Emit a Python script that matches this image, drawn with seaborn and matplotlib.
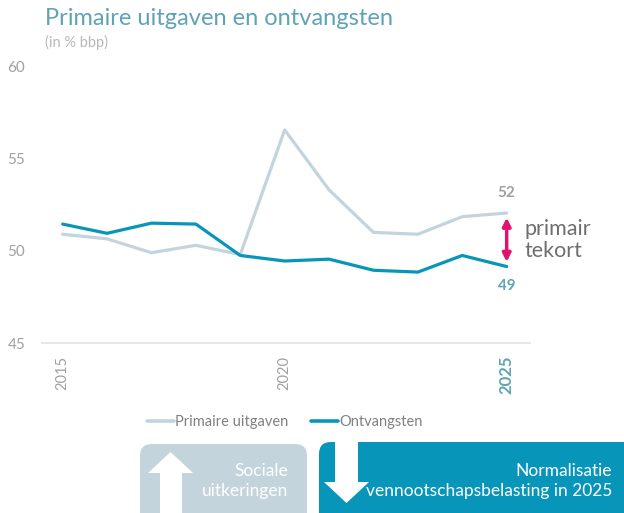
import matplotlib as mpl
import matplotlib.pyplot as plt
import matplotlib.patches as patches
import numpy as np
import pandas as pd
import seaborn as sns

sns.set_style('white')
plt.rcParams['font.family'] = ['Lato', 'DejaVu Sans']

# data (in % bbp)
years = [2015, 2016, 2017, 2018, 2019, 2020, 2021, 2022, 2023, 2024, 2025]
primaire_uitgaven = [50.9, 50.65, 49.9, 50.3, 49.8, 56.55, 53.3, 51.0, 50.9, 51.85, 52.05]
ontvangsten = [51.45, 50.95, 51.5, 51.45, 49.75, 49.45, 49.55, 48.95, 48.85, 49.75, 49.15]
series_names = ['Primaire uitgaven', 'Ontvangsten']
ytick_vals = [45, 50, 55, 60]
xtick_vals = [2015, 2020, 2025]

c_uit = '#c3d4dc'
c_ont = '#0796b9'
c_title = '#5fa3b4'
c_grey = '#a0a0a0'
c_pink = '#e3126f'

df = pd.DataFrame({
    'jaar': years * 2,
    'waarde': primaire_uitgaven + ontvangsten,
    'reeks': [series_names[0]] * len(years) + [series_names[1]] * len(years),
})

fig = plt.figure(figsize=(6.24, 5.13), dpi=100)
ax = fig.add_axes([0.067, 0.331, 0.782, 0.54])

sns.lineplot(data=df, x='jaar', y='waarde', hue='reeks', hue_order=series_names,
             palette={series_names[0]: c_uit, series_names[1]: c_ont},
             linewidth=2.3, ax=ax)

ax.set_xlim(2014.53, 2025.52)
ax.set_ylim(45, 60)
ax.set_yticks(ytick_vals)
ax.set_yticklabels([str(v) for v in ytick_vals], color=c_grey, fontsize=11)
ax.set_xticks(xtick_vals)
ax.set_xticklabels([str(v) for v in xtick_vals], rotation=90, color=c_grey, fontsize=10.5)
lbl = ax.get_xticklabels()[-1]
lbl.set_color(c_title)
lbl.set_fontweight('bold')
lbl.set_fontsize(12)
ax.tick_params(axis='both', length=0, pad=9)
ax.tick_params(axis='y', pad=12)
ax.set_xlabel('')
ax.set_ylabel('')
for s in ['top', 'right', 'left']:
    ax.spines[s].set_visible(False)
ax.spines['bottom'].set_color('#e2e2e2')
ax.spines['bottom'].set_linewidth(1.2)

# end labels
ax.text(years[-1], primaire_uitgaven[-1] + 0.7, f'{round(primaire_uitgaven[-1])}', ha='center',
        va='bottom', color=c_grey, fontsize=11, fontweight='bold')
ax.text(years[-1], ontvangsten[-1] - 0.7, f'{round(ontvangsten[-1])}', ha='center',
        va='top', color=c_title, fontsize=11, fontweight='bold')
ax.annotate('', xy=(years[-1], primaire_uitgaven[-1] - 0.25), xytext=(years[-1], ontvangsten[-1] + 0.25),
            arrowprops=dict(arrowstyle='<|-|>', color=c_pink, lw=2.5, mutation_scale=12, shrinkA=0, shrinkB=0))
ax.text(years[-1] + 0.4, (primaire_uitgaven[-1] + ontvangsten[-1]) / 2, 'primair\ntekort',
        ha='left', va='center', color='#6e6e6e', fontsize=15.5, linespacing=1.1)

leg = ax.legend(loc='center', bbox_to_anchor=(0.498, -0.285), ncol=2, frameon=False,
                fontsize=10.5, handlelength=1.85, columnspacing=1.6, handletextpad=0.05)
for t in leg.get_texts():
    t.set_color('#808080')
for h in leg.get_lines():
    h.set_linewidth(2.6)

fig.text(0.072, 0.963, 'Primaire uitgaven en ontvangsten', color=c_title, fontsize=17, va='center')
fig.text(0.072, 0.917, '(in % bbp)', color='#b8b8b8', fontsize=10.5, va='center')

# bottom boxes in pixel coordinates
ov = fig.add_axes([0, 0, 1, 1], zorder=-1)
ov.set_xlim(0, 624)
ov.set_ylim(513, 0)
ov.axis('off')
ov.add_patch(patches.FancyBboxPatch((140, 444), 167, 90, boxstyle='round,pad=0,rounding_size=12',
                                    fc=c_uit, ec='none'))
ov.add_patch(patches.FancyBboxPatch((319, 442), 320, 90, boxstyle='round,pad=0,rounding_size=12',
                                    fc=c_ont, ec='none'))
ov.add_patch(patches.Polygon([(160, 513), (160, 473), (148, 473), (170.5, 452), (193, 473),
                              (182, 473), (182, 513)], fc='white', ec='none'))
ov.add_patch(patches.Polygon([(335, 440), (335, 482), (324, 482), (346.5, 503), (369, 482),
                              (358, 482), (358, 440)], fc='white', ec='none'))
ov.text(288, 481, 'Sociale\nuitkeringen', ha='right', va='center', color='white', fontsize=12.5,
        linespacing=1.25)
ov.text(612, 481, 'Normalisatie\nvennootschapsbelasting in 2025', ha='right', va='center',
        color='white', fontsize=12.5, linespacing=1.25)

fig.savefig('out.png', dpi=100)
